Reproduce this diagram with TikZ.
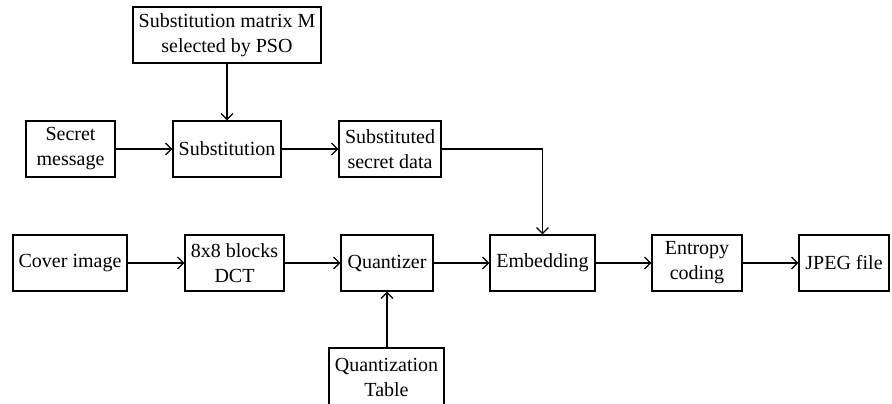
\documentclass[tikz,border=0pt]{standalone}
\usepackage{fontspec}
\setmainfont{Liberation Serif}
\usetikzlibrary{arrows.meta}
\begin{document}
\begin{tikzpicture}[x=0.5pt,y=-0.5pt,
  blk/.style={draw, line width=0.6pt, minimum height=28pt, inner sep=1pt, align=center, font=\fontsize{10}{12.5}\selectfont},
  conn/.style={line width=0.6pt, -{Straight Barb[length=3pt,width=6pt]}}]
\useasboundingbox (0,0) rectangle (892,403);
\clip (0,0) rectangle (892,403);
\node[blk, minimum width=94pt] (M) at (227,35) {Substitution matrix M\\selected by PSO};
\node[blk, minimum width=44.5pt] (secret) at (70.5,149) {Secret\\message};
\node[blk, minimum width=54pt] (subst) at (227,149) {Substitution};
\node[blk, minimum width=51pt] (sdata) at (390,149) {Substituted\\secret data};
\node[blk, minimum width=57pt] (cover) at (70,263) {Cover image};
\node[blk, minimum width=49.5pt] (dct) at (234.5,263) {8x8 blocks\\DCT};
\node[blk, minimum width=46pt] (quant) at (387,263) {Quantizer};
\node[blk, minimum width=57.5pt, minimum height=29pt] (qtable) at (386.5,377) {Quantization\\Table};
\node[blk, minimum width=52.5pt] (embed) at (542.5,263) {Embedding};
\node[blk, minimum width=45pt] (entropy) at (697,263) {Entropy\\coding};
\node[blk, minimum width=45pt] (jpeg) at (844,263) {JPEG file};
\draw[conn] (M) -- (subst);
\draw[conn] (secret) -- (subst);
\draw[conn] (subst) -- (sdata);
\draw[conn] (sdata.east) -| (embed.north);
\draw[conn] (cover) -- (dct);
\draw[conn] (dct) -- (quant);
\draw[conn] (qtable.north -| quant.south) -- (quant.south);
\draw[conn] (quant) -- (embed);
\draw[conn] (embed) -- (entropy);
\draw[conn] (entropy) -- (jpeg);
\end{tikzpicture}
\end{document}
